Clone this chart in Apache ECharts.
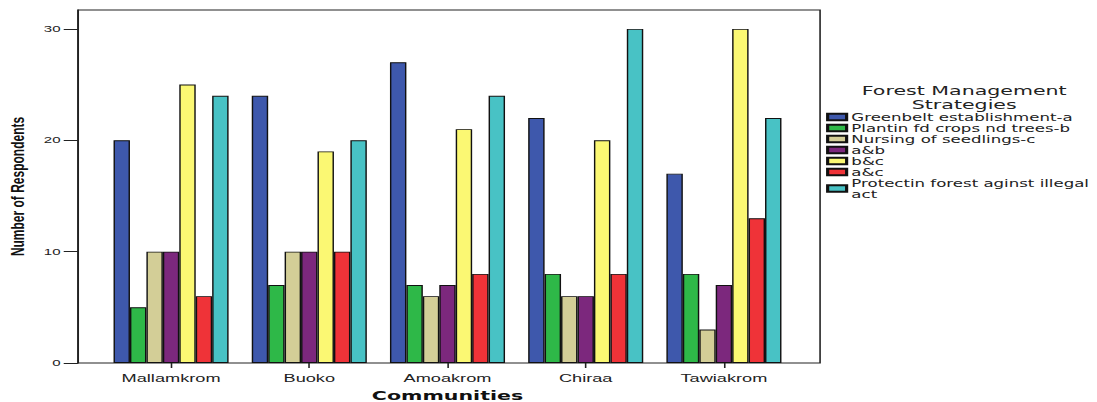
<!DOCTYPE html>
<html>
<head>
<meta charset="utf-8">
<script src="https://cdn.jsdelivr.net/npm/echarts@6/dist/echarts.min.js"></script>
<style>
  html, body { margin: 0; padding: 0; background: #fff; overflow: hidden; }
  /* chart is laid out narrow and widened horizontally */
  #chart { width: 694px; height: 402px; transform: scaleX(1.5807); transform-origin: 0 0; }
</style>
</head>
<body>
<div id="chart"></div>
<script>
const communities = ['Mallamkrom', 'Buoko', 'Amoakrom', 'Chiraa', 'Tawiakrom'];

const strategyNames = [
  'Greenbelt establishment-a',
  'Plantin fd crops nd trees-b',
  'Nursing of seedlings-c',
  'a&b',
  'b&c',
  'a&c',
  'Protectin forest aginst illegal act'
];

const greenbelt        = [20, 24, 27, 22, 17];
const plantingCrops    = [5, 7, 7, 8, 8];
const nursingSeedlings = [10, 10, 6, 6, 3];
const aAndB            = [10, 10, 7, 6, 7];
const bAndC            = [25, 19, 21, 20, 30];
const aAndC            = [6, 10, 8, 8, 13];
const protecting       = [24, 20, 24, 30, 22];

const yTicks = [0, 10, 20, 30];

const seriesValues = [greenbelt, plantingCrops, nursingSeedlings, aAndB, bAndC, aAndC, protecting];
const colors = ['#3E58AC', '#2EB848', '#D3CE97', '#7C287D', '#FBF873', '#EF3338', '#48C2C5'];

const FONT = "'Liberation Sans', Arial, sans-serif";
const WIDE_FONT = "'DejaVu Sans', sans-serif";
const Y_MAX = 31.7;

const chart = echarts.init(document.getElementById('chart'), null, { renderer: 'svg' });

chart.setOption({
  animation: false,
  backgroundColor: '#fff',
  color: colors,
  grid: [
    // outer frame with the value axis
    { left: 49.3, right: 175.2, top: 10, bottom: 39, outerBoundsMode: 'none',
      show: true, borderColor: '#222', borderWidth: 1, backgroundColor: 'transparent' },
    // plotting band for the grouped bars
    { left: 64.5, right: 192.3, top: 10, bottom: 39, outerBoundsMode: 'none' }
  ],
  xAxis: [
    { gridIndex: 0, type: 'value', min: 0, max: 1, show: false },
    {
      gridIndex: 1,
      type: 'category',
      data: communities,
      axisLine: { show: false },
      axisTick: { show: true, alignWithLabel: true, length: 5, lineStyle: { color: '#222' } },
      axisLabel: { color: '#222', fontFamily: FONT, fontSize: 11.5, margin: 9 },
      name: 'Communities',
      nameLocation: 'middle',
      nameGap: 20,
      nameTextStyle: { color: '#111', fontFamily: WIDE_FONT, fontWeight: 'bold', fontSize: 13, lineHeight: 13 }
    }
  ],
  yAxis: [
    {
      gridIndex: 0,
      type: 'value',
      min: 0,
      max: Y_MAX,
      interval: 10,
      splitLine: { show: false },
      axisLine: { show: true, lineStyle: { color: '#222' } },
      axisTick: { show: true, length: 9, customValues: yTicks, lineStyle: { color: '#222' } },
      axisLabel: { customValues: yTicks, color: '#222', fontFamily: FONT, fontSize: 9.5, margin: 11 },
      name: 'Number of Respondents',
      nameLocation: 'middle',
      nameGap: 30,
      nameTextStyle: { color: '#111', fontFamily: FONT, fontWeight: 'bold', fontSize: 12 }
    },
    { gridIndex: 1, type: 'value', min: 0, max: Y_MAX, show: false }
  ],
  legend: {
    orient: 'vertical',
    left: 522.6,
    top: 111.5,
    padding: 0,
    itemGap: 0,
    itemWidth: 12,
    itemHeight: 6.5,
    icon: 'rect',
    data: strategyNames,
    formatter: function (name) {
      return name === strategyNames[6] ? 'Protectin forest aginst illegal\nact' : name;
    },
    textStyle: { color: '#222', fontFamily: WIDE_FONT, fontSize: 10.5, lineHeight: 11, padding: [0, 0, 0, -2] }
  },
  graphic: [
    {
      type: 'text',
      x: 610,
      y: 84,
      style: {
        text: 'Forest Management\nStrategies',
        textAlign: 'center',
        fill: '#222',
        fontFamily: WIDE_FONT,
        fontSize: 13,
        lineHeight: 13.5
      }
    }
  ],
  series: seriesValues.map(function (values, i) {
    return {
      name: strategyNames[i],
      type: 'bar',
      xAxisIndex: 1,
      yAxisIndex: 1,
      data: values,
      barWidth: 10.4,
      barGap: '0%',
      itemStyle: { color: colors[i], borderColor: '#111', borderWidth: 0.9 }
    };
  })
});
</script>
</body>
</html>
